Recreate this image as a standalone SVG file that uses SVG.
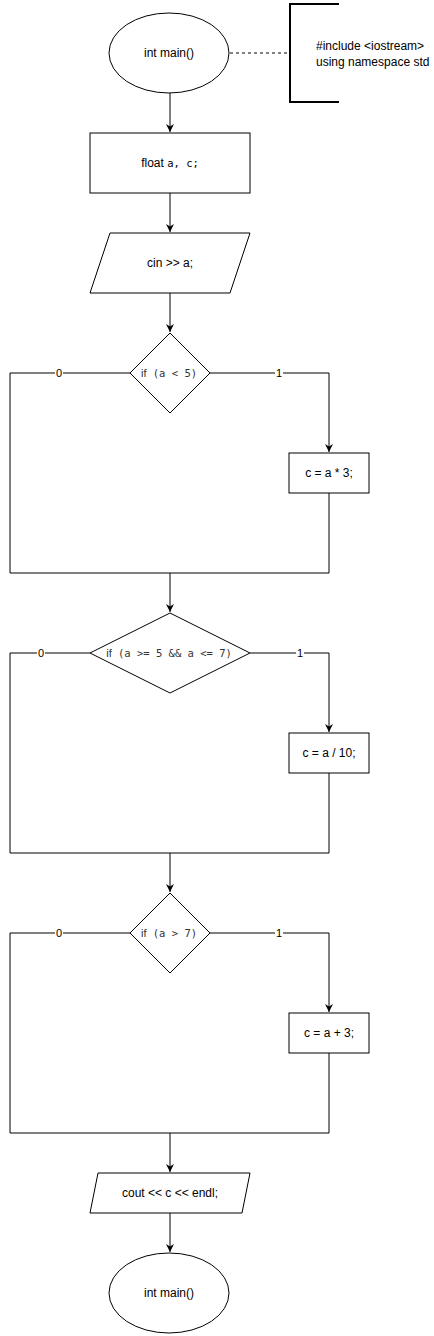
<svg xmlns="http://www.w3.org/2000/svg" width="434" height="1336" viewBox="0 0 434 1336">
<defs>
<marker id="arr" viewBox="0 0 10 10" refX="10" refY="5" markerWidth="8" markerHeight="8" markerUnits="userSpaceOnUse" orient="auto">
<path d="M0,0 L10,5 L0,10 L3,5 Z" fill="#000"/>
</marker>
<style>
.sh{fill:#fff;stroke:#000;stroke-width:1}
.ln{fill:none;stroke:#000;stroke-width:1}
.t{font-family:"Liberation Sans",Arial,sans-serif;font-size:12px;fill:#000;text-anchor:middle;dominant-baseline:central}
.m{font-family:"DejaVu Sans Mono",monospace;font-size:10.5px}
.c{font-family:"Liberation Sans",Arial,sans-serif;font-size:11px;fill:#333;text-anchor:middle;dominant-baseline:central}
.lb{font-family:"Liberation Sans",Arial,sans-serif;font-size:11px;fill:#000;text-anchor:middle;dominant-baseline:central}
</style>
</defs>
<rect width="434" height="1336" fill="#fff"/>
<g id="connectors">
<line class="ln" x1="230" y1="53" x2="290" y2="53" stroke-dasharray="3,3"/>
<line class="ln" x1="170" y1="93" x2="170" y2="132" marker-end="url(#arr)"/>
<line class="ln" x1="170" y1="193" x2="170" y2="232" marker-end="url(#arr)"/>
<line class="ln" x1="170" y1="293" x2="170" y2="332" marker-end="url(#arr)"/>
<polyline class="ln" points="130,373 10,373 10,573 329,573"/>
<polyline class="ln" points="210,373 329,373 329,452" marker-end="url(#arr)"/>
<line class="ln" x1="329" y1="493" x2="329" y2="573"/>
<line class="ln" x1="170" y1="573" x2="170" y2="612" marker-end="url(#arr)"/>
<polyline class="ln" points="90,653 10,653 10,853 329,853"/>
<polyline class="ln" points="250,653 329,653 329,732" marker-end="url(#arr)"/>
<line class="ln" x1="329" y1="773" x2="329" y2="853"/>
<line class="ln" x1="170" y1="853" x2="170" y2="892" marker-end="url(#arr)"/>
<polyline class="ln" points="130,933 10,933 10,1133 329,1133"/>
<polyline class="ln" points="210,933 329,933 329,1012" marker-end="url(#arr)"/>
<line class="ln" x1="329" y1="1053" x2="329" y2="1133"/>
<line class="ln" x1="170" y1="1133" x2="170" y2="1172" marker-end="url(#arr)"/>
<line class="ln" x1="170" y1="1213" x2="170" y2="1252" marker-end="url(#arr)"/>
<rect x="55" y="366" width="8" height="13" fill="#fff"/><text class="lb" x="59" y="373">0</text>
<rect x="275" y="366" width="8" height="13" fill="#fff"/><text class="lb" x="279" y="373">1</text>
<rect x="37" y="646" width="8" height="13" fill="#fff"/><text class="lb" x="41" y="653">0</text>
<rect x="296" y="646" width="8" height="13" fill="#fff"/><text class="lb" x="300" y="653">1</text>
<rect x="55" y="926" width="8" height="13" fill="#fff"/><text class="lb" x="59" y="933">0</text>
<rect x="275" y="926" width="8" height="13" fill="#fff"/><text class="lb" x="279" y="933">1</text>
</g>
<g id="start">
<ellipse class="sh" cx="169" cy="53" rx="60" ry="40"/>
<text class="t" x="169" y="53">int main()</text>
</g>
<g id="note">
<polyline points="339,4 290,4 290,102 339,102" fill="none" stroke="#000" stroke-width="2"/>
<text class="t" x="316" y="46" text-anchor="start" style="text-anchor:start">#include &lt;iostream&gt;</text>
<text class="t" x="316" y="62" style="text-anchor:start">using namespace std</text>
</g>
<g id="decl">
<rect class="sh" x="90" y="133" width="160" height="60"/>
<text class="t" x="170" y="163">float <tspan class="m">a, c;</tspan></text>
</g>
<g id="input">
<polygon class="sh" points="110,233 250,233 230,293 90,293"/>
<text class="t" x="170" y="263">cin &gt;&gt; a;</text>
</g>
<g id="if1">
<polygon class="sh" points="170,333 210,373 170,413 130,373"/>
<text class="c" x="169" y="373">if<tspan class="m"> (a &lt; 5)</tspan></text>
</g>
<g id="op1">
<rect class="sh" x="289" y="453" width="80" height="40"/>
<text class="t" x="329" y="473">c = a * 3;</text>
</g>
<g id="if2">
<polygon class="sh" points="170,613 250,653 170,693 90,653"/>
<text class="c" x="169" y="653">if<tspan class="m"> (a &gt;= 5 &amp;&amp; a &lt;= 7)</tspan></text>
</g>
<g id="op2">
<rect class="sh" x="289" y="733" width="80" height="40"/>
<text class="t" x="329" y="753">c = a / 10;</text>
</g>
<g id="if3">
<polygon class="sh" points="170,893 210,933 170,973 130,933"/>
<text class="c" x="169" y="933">if<tspan class="m"> (a &gt; 7)</tspan></text>
</g>
<g id="op3">
<rect class="sh" x="289" y="1013" width="80" height="40"/>
<text class="t" x="329" y="1033">c = a + 3;</text>
</g>
<g id="output">
<polygon class="sh" points="98,1173 250,1173 242,1213 90,1213"/>
<text class="t" x="170" y="1193">cout &lt;&lt; c &lt;&lt; endl;</text>
</g>
<g id="end">
<ellipse class="sh" cx="169" cy="1293" rx="60" ry="40"/>
<text class="t" x="169" y="1293">int main()</text>
</g>
</svg>
